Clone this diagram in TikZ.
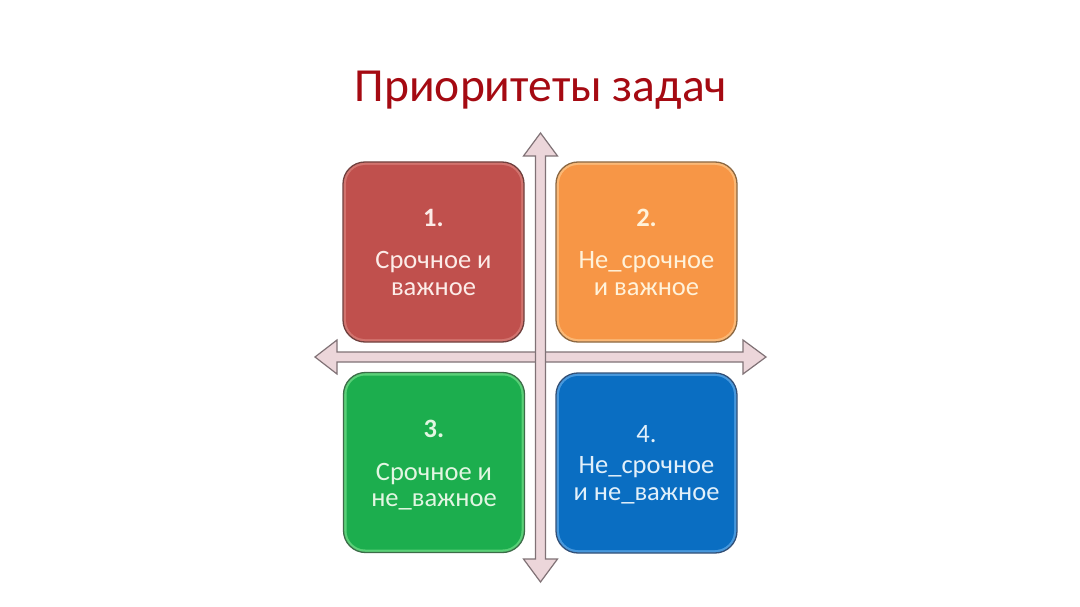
\documentclass[tikz,border=0pt]{standalone}
\usepackage{fontspec}
\setmainfont{Carlito}
\definecolor{titlered}{RGB}{165,10,18}
\definecolor{arrfill}{RGB}{236,214,218}
\definecolor{arrline}{RGB}{128,114,118}
\definecolor{rmain}{RGB}{192,80,77}
\definecolor{rrim}{RGB}{210,115,110}
\definecolor{rline}{RGB}{112,64,62}
\definecolor{omain}{RGB}{247,150,70}
\definecolor{orim}{RGB}{250,184,118}
\definecolor{oline}{RGB}{140,104,66}
\definecolor{gmain}{RGB}{28,174,78}
\definecolor{grim}{RGB}{90,208,120}
\definecolor{gline}{RGB}{60,108,72}
\definecolor{bmain}{RGB}{10,110,194}
\definecolor{brim}{RGB}{72,152,220}
\definecolor{bline}{RGB}{50,80,120}
\definecolor{rtext}{RGB}{252,236,232}
\definecolor{otext}{RGB}{255,242,218}
\definecolor{gtext}{RGB}{226,246,226}
\definecolor{btext}{RGB}{226,240,250}
\tikzset{
  outerbox/.style={minimum width=181pt, minimum height=180pt, rounded corners=22pt, inner sep=0pt, line width=1.3pt},
  innerbox/.style={minimum width=175pt, minimum height=174pt, rounded corners=19pt, inner sep=0pt},
  boxtext/.style={anchor=base, inner sep=0pt, font=\fontsize{26.5}{30}\selectfont},
  arrowshape/.style={fill=arrfill, draw=arrline, line width=1.2pt, line join=miter}
}
\begin{document}
\begin{tikzpicture}[x=1pt,y=-1pt]
\useasboundingbox[fill=white] (0,0) rectangle (1080,607);
% title
\node[anchor=base, inner sep=0pt, text=titlered, font=\fontsize{47.5}{56}\selectfont] (title) at (541,102) {Приоритеты задач};
% horizontal arrow
\draw[arrowshape] (315,357) -- (337,340) -- (337,352) -- (743,352) -- (743,340) -- (766,357) -- (743,374) -- (743,362) -- (337,362) -- (337,374) -- cycle;
% vertical arrow
\draw[arrowshape] (540.5,133) -- (523.5,156) -- (535.5,156) -- (535.5,559) -- (523.5,559) -- (540.5,582) -- (557.5,559) -- (545.5,559) -- (545.5,156) -- (557.5,156) -- cycle;
% boxes
\node[outerbox, fill=rrim, draw=rline] (b1) at (433.5,252) {};
\node[innerbox, fill=rmain] (b1i) at (b1.center) {};
\node[outerbox, fill=orim, draw=oline] (b2) at (646.5,252) {};
\node[innerbox, fill=omain] (b2i) at (b2.center) {};
\node[outerbox, fill=grim, draw=gline] (b3) at (434,462.5) {};
\node[innerbox, fill=gmain] (b3i) at (b3.center) {};
\node[outerbox, fill=brim, draw=bline] (b4) at (646.5,463) {};
\node[innerbox, fill=bmain] (b4i) at (b4.center) {};
% texts box 1
\node[boxtext, text=rtext] (t1a) at (433.5,226) {\bfseries 1.};
\node[boxtext, text=rtext] (t1b) at (433.5,269) {Срочное и};
\node[boxtext, text=rtext] (t1c) at (433.5,295) {важное};
% texts box 2
\node[boxtext, text=otext] (t2a) at (646.5,226) {\bfseries 2.};
\node[boxtext, text=otext] (t2b) at (646.5,269) {Не\_срочное};
\node[boxtext, text=otext] (t2c) at (646.5,295) {и важное};
% texts box 3
\node[boxtext, text=gtext] (t3a) at (434,437) {\bfseries 3.};
\node[boxtext, text=gtext] (t3b) at (434,480) {Срочное и};
\node[boxtext, text=gtext] (t3c) at (434,506) {не\_важное};
% texts box 4
\node[boxtext, text=btext] (t4a) at (646.5,442) {4.};
\node[boxtext, text=btext] (t4b) at (646.5,473) {Не\_срочное};
\node[boxtext, text=btext] (t4c) at (646.5,500) {и не\_важное};
\end{tikzpicture}
\end{document}
